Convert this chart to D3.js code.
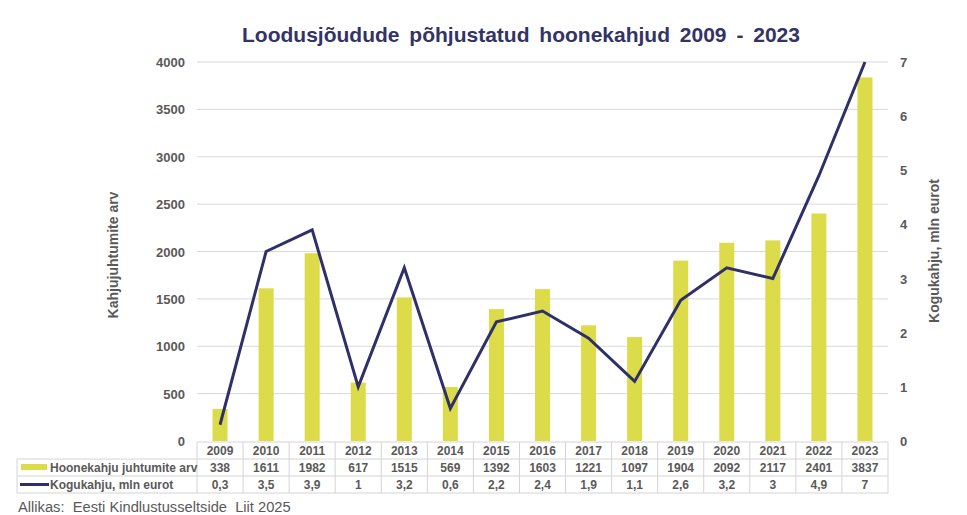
<!DOCTYPE html>
<html>
<head>
<meta charset="utf-8">
<script src="https://cdn.jsdelivr.net/npm/d3@7"></script>
<style>
  body { margin: 0; background: #fff; }
  text { font-family: "Liberation Sans", Arial, sans-serif; }
</style>
</head>
<body>
<svg id="chart" width="967" height="515"></svg>
<script>
const years = ["2009", "2010", "2011", "2012", "2013", "2014", "2015", "2016",
  "2017", "2018", "2019", "2020", "2021", "2022", "2023"];
const claims = [338, 1611, 1982, 617, 1515, 569, 1392, 1603, 1221, 1097, 1904, 2092, 2117, 2401, 3837];
const damage = [0.3, 3.5, 3.9, 1, 3.2, 0.6, 2.2, 2.4, 1.9, 1.1, 2.6, 3.2, 3, 4.9, 7];
const leftTicks = [0, 500, 1000, 1500, 2000, 2500, 3000, 3500, 4000];
const rightTicks = [0, 1, 2, 3, 4, 5, 6, 7];

const barColor = "#dcdc4a";
const lineColor = "#2f3068";
const textColor = "#595959";
const gridColor = "#d9d9d9";

const svg = d3.select("#chart");
const plotLeft = 197, plotRight = 888, plotTop = 62, plotBottom = 441;

const x = d3.scaleBand().domain(years).range([plotLeft, plotRight]);
const yL = d3.scaleLinear().domain([0, 4000]).range([plotBottom, plotTop]);
const yR = d3.scaleLinear().domain([0, 7]).range([plotBottom, plotTop]);

// title
svg.append("text")
  .attr("x", 521).attr("y", 42)
  .attr("text-anchor", "middle")
  .attr("font-size", 21).attr("font-weight", "bold")
  .attr("fill", "#333366")
  .attr("word-spacing", 4)
  .text("Loodusjõudude põhjustatud hoonekahjud 2009 - 2023");

// gridlines
svg.append("g").selectAll("line")
  .data(leftTicks.filter((d) => d > 0))
  .join("line")
  .attr("x1", plotLeft).attr("x2", plotRight)
  .attr("y1", (d) => yL(d)).attr("y2", (d) => yL(d))
  .attr("stroke", gridColor).attr("stroke-width", 1);

// left ticks
svg.append("g").selectAll("text")
  .data(leftTicks)
  .join("text")
  .attr("x", 185).attr("y", (d) => yL(d) + 5)
  .attr("text-anchor", "end")
  .attr("font-size", 13).attr("font-weight", "bold")
  .attr("fill", textColor)
  .text((d) => d);

// right ticks
svg.append("g").selectAll("text")
  .data(rightTicks)
  .join("text")
  .attr("x", 900).attr("y", (d) => yR(d) + 5)
  .attr("font-size", 13).attr("font-weight", "bold")
  .attr("fill", textColor)
  .text((d) => d);

// axis titles
svg.append("text")
  .attr("transform", "translate(118,255) rotate(-90)")
  .attr("text-anchor", "middle")
  .attr("font-size", 14).attr("font-weight", "bold")
  .attr("fill", textColor)
  .text("Kahjujuhtumite arv");
svg.append("text")
  .attr("transform", "translate(939,251) rotate(-90)")
  .attr("text-anchor", "middle")
  .attr("font-size", 14).attr("font-weight", "bold")
  .attr("fill", textColor)
  .text("Kogukahju, mln eurot");

// bars
const barW = 15;
svg.append("g").selectAll("rect")
  .data(claims)
  .join("rect")
  .attr("x", (d, i) => x(years[i]) + x.bandwidth() / 2 - barW / 2)
  .attr("y", (d) => yL(d))
  .attr("width", barW)
  .attr("height", (d) => plotBottom - yL(d))
  .attr("fill", barColor);

// line
const line = d3.line()
  .x((d, i) => x(years[i]) + x.bandwidth() / 2)
  .y((d) => yR(d));
svg.append("path")
  .datum(damage)
  .attr("d", line)
  .attr("fill", "none")
  .attr("stroke", lineColor)
  .attr("stroke-width", 3)
  .attr("stroke-linejoin", "miter");

// data table
const rowY = [442, 459, 476, 493];
const tableLeft = 17;
const tbl = svg.append("g");
const borderColor = "#d4d4d4";

function hline(x1, x2, yy) {
  tbl.append("line").attr("x1", x1).attr("x2", x2).attr("y1", yy).attr("y2", yy)
    .attr("stroke", borderColor).attr("stroke-width", 1);
}
function vline(xx, y1, y2) {
  tbl.append("line").attr("x1", xx).attr("x2", xx).attr("y1", y1).attr("y2", y2)
    .attr("stroke", borderColor).attr("stroke-width", 1);
}
hline(plotLeft, plotRight, rowY[0]);
hline(tableLeft, plotRight, rowY[1]);
hline(tableLeft, plotRight, rowY[2]);
hline(tableLeft, plotRight, rowY[3]);
vline(tableLeft, rowY[1], rowY[3]);
years.forEach((yr) => vline(x(yr), rowY[0], rowY[3]));
vline(plotRight, rowY[0], rowY[3]);

const cell = (txt, cx, cy) => tbl.append("text")
  .attr("x", cx).attr("y", cy)
  .attr("text-anchor", "middle")
  .attr("font-size", 12).attr("font-weight", "bold")
  .attr("fill", textColor)
  .text(txt);

years.forEach((yr, i) => {
  const cx = x(yr) + x.bandwidth() / 2;
  cell(yr, cx, rowY[0] + 13);
  cell(claims[i], cx, rowY[1] + 13);
  cell(String(damage[i]).replace(".", ","), cx, rowY[2] + 13);
});

// legend keys in table
tbl.append("rect").attr("x", 21).attr("y", rowY[1] + 5).attr("width", 26).attr("height", 6).attr("fill", barColor);
tbl.append("line").attr("x1", 20).attr("x2", 49).attr("y1", rowY[2] + 8.5).attr("y2", rowY[2] + 8.5)
  .attr("stroke", lineColor).attr("stroke-width", 3);
tbl.append("text").attr("x", 50).attr("y", rowY[1] + 13)
  .attr("font-size", 12).attr("font-weight", "bold").attr("fill", textColor)
  .text("Hoonekahju juhtumite arv");
tbl.append("text").attr("x", 50).attr("y", rowY[2] + 13)
  .attr("font-size", 12).attr("font-weight", "bold").attr("fill", textColor)
  .text("Kogukahju, mln eurot");

// source
svg.append("text")
  .attr("x", 18).attr("y", 512)
  .attr("font-size", 14.7)
  .attr("fill", textColor)
  .attr("xml:space", "preserve")
  .text("Allikas:  Eesti Kindlustusseltside  Liit 2025");
</script>
</body>
</html>
